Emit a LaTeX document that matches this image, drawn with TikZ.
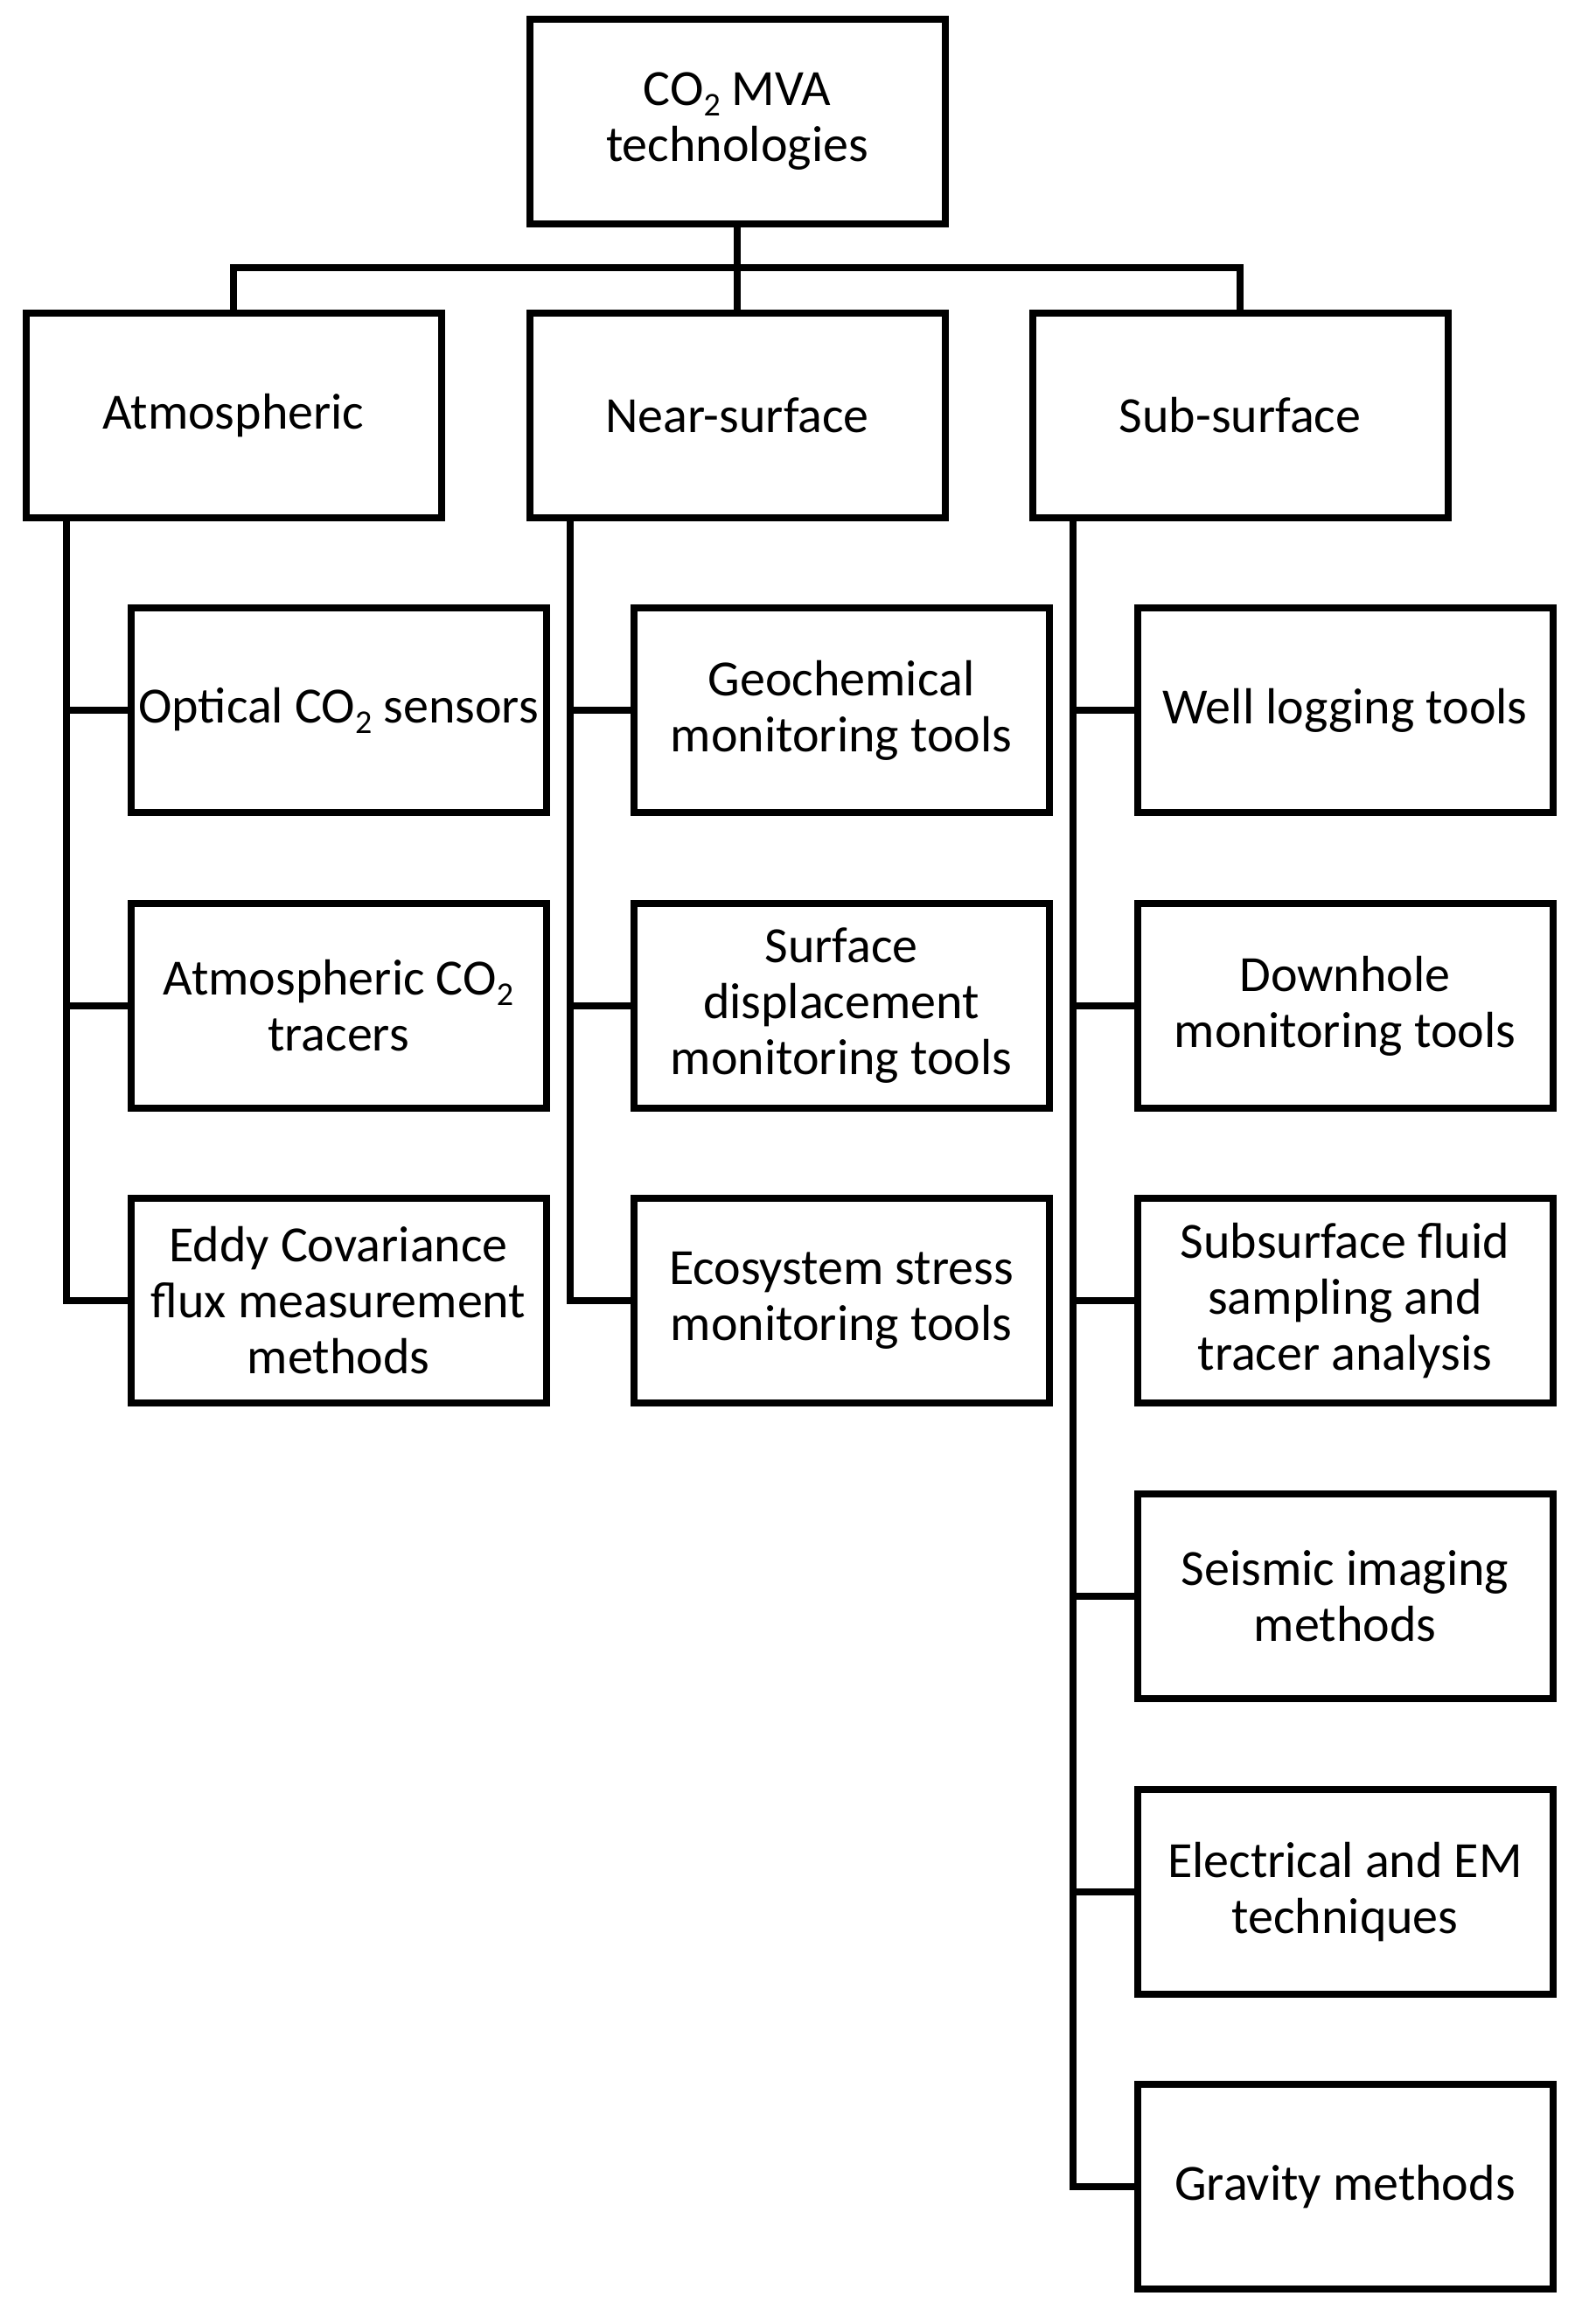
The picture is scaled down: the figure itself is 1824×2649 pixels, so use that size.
\documentclass[tikz,border=0pt]{standalone}
\usepackage{fontspec}
\setmainfont{Carlito}
\newcommand{\mysubtwo}{\raisebox{-12pt}{\fontsize{38}{38}\selectfont 2}}
\begin{document}
\begin{tikzpicture}[x=1pt,y=-1pt,
  box/.style={draw=black,line width=8pt,minimum width=475pt,minimum height=234pt,inner sep=0pt,align=center,font=\fontsize{58}{64}\selectfont},
  conn/.style={draw=black,line width=8pt,line join=miter}]
\useasboundingbox (0,0) rectangle (1824,2649);
\fill[white] (0,0) rectangle (1824,2649);
\node[box] (top) at (843,139) {CO\mysubtwo{} MVA\\technologies};
\node[box] (atm) at (267,475) {Atmospheric};
\node[box] (near) at (843,475) {Near-surface};
\node[box] (sub) at (1418,475) {Sub-surface};
% level 3
\node[box] (a1) at (387,812) {Optical CO\mysubtwo{} sensors};
\node[box] (a2) at (387,1150) {Atmospheric CO\mysubtwo\\tracers};
\node[box] (a3) at (387,1487) {Eddy Covariance\\flux measurement\\methods};
\node[box] (n1) at (962,812) {Geochemical\\monitoring tools};
\node[box] (n2) at (962,1150) {Surface\\displacement\\monitoring tools};
\node[box] (n3) at (962,1487) {Ecosystem stress\\monitoring tools};
\node[box] (s1) at (1538,812) {Well logging tools};
\node[box] (s2) at (1538,1150) {Downhole\\monitoring tools};
\node[box] (s3) at (1538,1487) {Subsurface fluid\\sampling and\\tracer analysis};
\node[box] (s4) at (1538,1825) {Seismic imaging\\methods};
\node[box] (s5) at (1538,2163) {Electrical and EM\\techniques};
\node[box] (s6) at (1538,2500) {Gravity methods};
% bus
\coordinate (bus) at (843,306);
\draw[conn] (top.south) -- (near.north);
\draw[conn] (atm.north) |- (sub.north |- bus) -- (sub.north);
% trunks and branches
\foreach \c in {a1,a2,a3} \draw[conn] ([xshift=50pt]atm.south west) |- (\c.west);
\foreach \c in {n1,n2,n3} \draw[conn] ([xshift=50pt]near.south west) |- (\c.west);
\foreach \c in {s1,s2,s3,s4,s5,s6} \draw[conn] ([xshift=50pt]sub.south west) |- (\c.west);
\end{tikzpicture}
\end{document}
